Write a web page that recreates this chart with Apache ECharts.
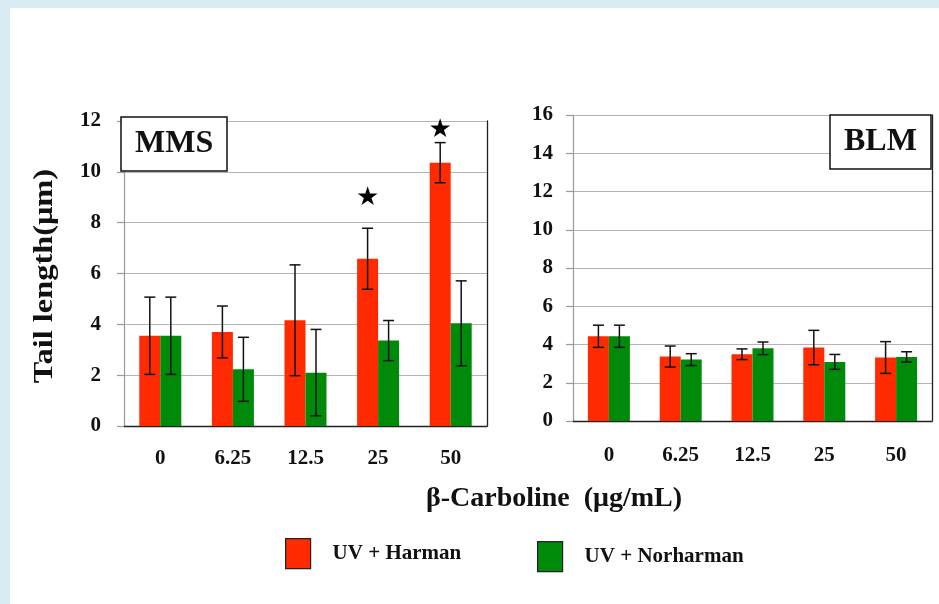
<!DOCTYPE html>
<html><head><meta charset="utf-8">
<script src="https://cdn.jsdelivr.net/npm/echarts@6/dist/echarts.min.js"></script>
<style>
html,body{margin:0;padding:0;width:939px;height:604px;background:#d8ecf2;overflow:hidden}
#panel{position:absolute;left:10px;top:8px;width:929px;height:596px;background:#fff}
#chart{position:absolute;left:0;top:0;width:939px;height:604px}
</style></head><body><div id="panel"></div><div id="chart"></div>
<script>
const categories = ['0', '6.25', '12.5', '25', '50'];
const seriesNames = ['UV + Harman', 'UV + Norharman'];
const mmsHarman = [3.55, 3.70, 4.16, 6.58, 10.36];
const mmsHarmanErr = [1.52, 1.02, 2.18, 1.20, 0.79];
const mmsNorharman = [3.55, 2.23, 2.10, 3.36, 4.04];
const mmsNorharmanErr = [1.52, 1.26, 1.70, 0.79, 1.67];
const blmHarman = [4.43, 3.37, 3.49, 3.84, 3.32];
const blmHarmanErr = [0.58, 0.55, 0.28, 0.90, 0.83];
const blmNorharman = [4.43, 3.21, 3.80, 3.09, 3.35];
const blmNorharmanErr = [0.58, 0.31, 0.33, 0.39, 0.27];
const mmsStars = [[3, 8.96], [4, 11.65]];
const mmsAxis = {min: 0, max: 12, interval: 2};
const blmAxis = {min: 0, max: 16, interval: 2};

const RED = '#ff2a00', GREEN = '#008a0a';
const FONT = 'Liberation Serif';
const BAR_W = 21;
const chart = echarts.init(document.getElementById('chart'));

function catAxis(gi, margin) {
  return {
    gridIndex: gi, type: 'category', data: categories,
    axisLine: {lineStyle: {color: '#9a9a9a', width: 1.2}},
    axisTick: {length: 7, lineStyle: {color: '#9a9a9a', width: 1.2}},
    axisLabel: {margin: margin, fontFamily: FONT, fontWeight: 'bold', fontSize: 21, color: '#111'}
  };
}
function topAxis(gi) {
  return {gridIndex: gi, type: 'category', data: categories, position: 'top',
    axisLine: {lineStyle: {color: '#222', width: 1.3}}, axisTick: {show: false}, axisLabel: {show: false}};
}
function valAxis(gi, cfg, margin) {
  return {
    gridIndex: gi, type: 'value', min: cfg.min, max: cfg.max, interval: cfg.interval,
    axisLine: {show: true, lineStyle: {color: '#9a9a9a', width: 1.2}},
    axisTick: {show: true, length: 7, lineStyle: {color: '#9a9a9a', width: 1.2}},
    axisLabel: {margin: margin, fontFamily: FONT, fontWeight: 'bold', fontSize: 21, color: '#111'},
    splitLine: {lineStyle: {color: '#b4b4b4', width: 1.2}}
  };
}
function rightAxis(gi, cfg) {
  return {gridIndex: gi, type: 'value', min: cfg.min, max: cfg.max, interval: cfg.interval, position: 'right',
    axisLine: {show: true, lineStyle: {color: '#222', width: 1.3}}, axisTick: {show: false},
    axisLabel: {show: false}, splitLine: {show: false}};
}
function bar(name, gi, vals, color) {
  return {name: name, type: 'bar', xAxisIndex: gi, yAxisIndex: gi, data: vals,
    barWidth: BAR_W, barGap: '0%', itemStyle: {color: color}, z: 2};
}
function errBars(gi, vals, errs, offset) {
  return {
    type: 'custom', xAxisIndex: gi, yAxisIndex: gi, z: 5, silent: true,
    data: vals.map((v, i) => [i, v - errs[i], v + errs[i]]),
    renderItem: function (params, api) {
      const lo = api.coord([api.value(0), api.value(1)]);
      const hi = api.coord([api.value(0), api.value(2)]);
      const x = lo[0] + offset, c = 5.5;
      const st = {stroke: '#111', lineWidth: 1.5};
      return {type: 'group', children: [
        {type: 'line', shape: {x1: x, y1: hi[1], x2: x, y2: lo[1]}, style: st},
        {type: 'line', shape: {x1: x - c, y1: hi[1], x2: x + c, y2: hi[1]}, style: st},
        {type: 'line', shape: {x1: x - c, y1: lo[1], x2: x + c, y2: lo[1]}, style: st}
      ]};
    }
  };
}
function stars(gi, pts, offset) {
  return {
    type: 'custom', xAxisIndex: gi, yAxisIndex: gi, z: 6, silent: true, data: pts,
    renderItem: function (params, api) {
      const p = api.coord([api.value(0), api.value(1)]);
      return {type: 'text', x: p[0] + offset, y: p[1],
        style: {text: '★', fontSize: 26, fill: '#000', align: 'center', verticalAlign: 'middle', fontFamily: 'DejaVu Sans'}};
    }
  };
}
const legendBase = {itemWidth: 25, itemHeight: 30, icon: 'rect',
  itemStyle: {borderColor: '#222', borderWidth: 1.2},
  textStyle: {fontFamily: FONT, fontWeight: 'bold', fontSize: 21, color: '#111', padding: [10, 0, 0, 17]}};

chart.setOption({
  animation: false,
  grid: [
    {left: 124, top: 121, right: 452, bottom: 178},
    {left: 573, top: 115, right: 7, bottom: 183}
  ],
  xAxis: [catAxis(0, 22), catAxis(1, 24), topAxis(0), topAxis(1)],
  yAxis: [valAxis(0, mmsAxis, 23), valAxis(1, blmAxis, 20), rightAxis(0, mmsAxis), rightAxis(1, blmAxis)],
  title: [
    {text: 'MMS', left: 121, top: 118, padding: [11, 14], borderColor: '#111', borderWidth: 1.5, backgroundColor: '#fff',
      textStyle: {fontFamily: FONT, fontWeight: 'bold', fontSize: 32, lineHeight: 30, color: '#111'}},
    {text: 'BLM', left: 830, top: 116, padding: [11, 14], borderColor: '#111', borderWidth: 1.5, backgroundColor: '#fff',
      textStyle: {fontFamily: FONT, fontWeight: 'bold', fontSize: 32, lineHeight: 30, color: '#111'}}
  ],
  legend: [
    Object.assign({}, legendBase, {data: [seriesNames[0]], left: 280, top: 533}),
    Object.assign({}, legendBase, {data: [seriesNames[1]], left: 532, top: 536})
  ],
  graphic: [
    {type: 'text', x: 45, y: 276, rotation: Math.PI / 2, scaleX: 1.2,
      style: {text: 'Tail length(μm)', fontFamily: FONT, fontWeight: 'bold', fontSize: 27, fill: '#111', align: 'center', verticalAlign: 'middle'}},
    {type: 'text', x: 554, y: 499,
      style: {text: 'β-Carboline  (μg/mL)', fontFamily: FONT, fontWeight: 'bold', fontSize: 28, fill: '#111', align: 'center', verticalAlign: 'middle'}}
  ],
  series: [
    bar(seriesNames[0], 0, mmsHarman, RED),
    bar(seriesNames[1], 0, mmsNorharman, GREEN),
    bar(seriesNames[0], 1, blmHarman, RED),
    bar(seriesNames[1], 1, blmNorharman, GREEN),
    errBars(0, mmsHarman, mmsHarmanErr, -BAR_W / 2),
    errBars(0, mmsNorharman, mmsNorharmanErr, BAR_W / 2),
    errBars(1, blmHarman, blmHarmanErr, -BAR_W / 2),
    errBars(1, blmNorharman, blmNorharmanErr, BAR_W / 2),
    stars(0, mmsStars, -BAR_W / 2)
  ]
});
</script></body></html>
